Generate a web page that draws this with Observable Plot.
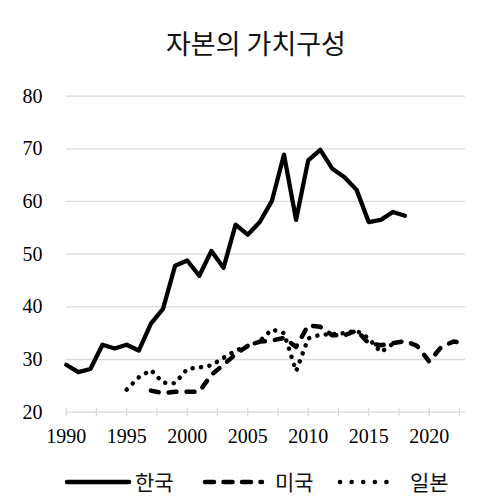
<!DOCTYPE html>
<html><head><meta charset="utf-8">
<script src="https://cdn.jsdelivr.net/npm/d3@7"></script>
<script src="https://cdn.jsdelivr.net/npm/@observablehq/plot@0.6"></script>
<style>
body{margin:0;background:#fff;}
#wrap{position:relative;width:492px;height:504px;overflow:hidden;background:#fff;}
#title{position:absolute;left:156px;width:200px;top:28px;text-align:center;font-family:"Noto Sans CJK KR";font-size:27px;line-height:30px;color:#111;white-space:nowrap;}
#chart{position:absolute;left:0;top:70px;}
#legend{position:absolute;left:0;top:462px;width:492px;height:40px;}
.lt{position:absolute;top:4px;font-family:"Noto Sans CJK KR";font-size:21px;line-height:30px;color:#111;}
</style></head>
<body><div id="wrap">
<div id="title">자본의 가치구성</div>
<div id="chart"></div>
<div id="legend">
<svg width="492" height="40" style="position:absolute;left:0;top:0">
<line x1="67" x2="129" y1="20" y2="20" stroke="#000" stroke-width="4.5" stroke-linecap="round"/>
<line x1="205" x2="262" y1="20" y2="20" stroke="#000" stroke-width="4.5" stroke-linecap="round" stroke-dasharray="9 9.5"/>
<line x1="340" x2="398" y1="20" y2="20" stroke="#000" stroke-width="4.5" stroke-linecap="round" stroke-dasharray="0.1 11.5"/>
</svg>
<span class="lt" style="left:135px">한국</span>
<span class="lt" style="left:275px">미국</span>
<span class="lt" style="left:410px">일본</span>
</div>
</div>
<script>
const koreaYears = [1990,1991,1992,1993,1994,1995,1996,1997,1998,1999,2000,2001,2002,2003,2004,2005,2006,2007,2008,2009,2010,2011,2012,2013,2014,2015,2016,2017,2018];
const koreaValues = [29.0,27.6,28.2,32.8,32.1,32.8,31.7,36.8,39.6,47.8,48.8,45.9,50.6,47.4,55.6,53.7,56.1,60.1,68.9,56.5,67.8,69.8,66.2,64.6,62.2,56.1,56.5,58.0,57.3];

const usYears = [1997,1998,1999,2000,2001,2002,2003,2004,2005,2006,2007,2008,2009,2010,2011,2012,2013,2014,2015,2016,2017,2018,2019,2020,2021,2022,2023];
const usValues = [24.1,23.6,23.9,23.9,23.9,27.1,29.0,31.0,32.6,33.4,33.6,34.1,32.4,36.5,36.2,34.6,34.6,35.5,33.1,32.7,33.1,33.5,32.6,29.6,32.4,33.4,33.1];

const japanYears = [1995,1996,1997,1998,1999,2000,2001,2002,2003,2004,2005,2006,2007,2008,2009,2010,2011,2012,2013,2014,2015,2016,2017];
const japanValues = [24.3,26.6,28.0,25.6,25.5,28.2,28.5,28.9,30.3,31.7,32.5,33.5,35.7,35.0,27.8,34.0,34.7,34.8,35.0,35.5,34.0,31.4,33.0];

const yTicks = [20,30,40,50,60,70,80];
const xLabels = [1990,1995,2000,2005,2010,2015,2020];
const xMinorTicks = [1990,1992.5,1995,1997.5,2000,2002.5,2005,2007.5,2010,2012.5,2015,2017.5,2020,2022.5];

const toRows = (ys, vs) => ys.map((y, i) => ({year: y, value: vs[i]}));
const korea = toRows(koreaYears, koreaValues);
const us = toRows(usYears, usValues);
const japan = toRows(japanYears, japanValues);

const chart = Plot.plot({
  width: 492,
  height: 380,
  marginTop: 25.6,
  marginBottom: 38.3,
  marginLeft: 65.7,
  marginRight: 27,
  x: {domain: [1990, 2023]},
  y: {domain: [20, 80]},
  style: {fontFamily: "Liberation Serif", fontSize: "20px", color: "#000", background: "white", overflow: "visible"},
  marks: [
    Plot.gridY(yTicks.slice(1), {stroke: "#d9d9d9", strokeOpacity: 1, strokeWidth: 1.3}),
    Plot.ruleY([20], {stroke: "#d9d9d9", strokeWidth: 1.3}),
    Plot.axisX(xMinorTicks, {tickSize: 8, dy: -4, stroke: "#d9d9d9", strokeWidth: 1.3, fill: "none", label: null}),
    Plot.axisX(xLabels, {tickSize: 0, tickPadding: 17, tickFormat: d => String(d), fontSize: 20, fill: "#000", label: null}),
    Plot.axisY(yTicks, {tickSize: 0, tickPadding: 23.7, fontSize: 20, fill: "#000", label: null}),
    Plot.lineY(japan, {x: "year", y: "value", stroke: "#000", strokeWidth: 4.5, strokeLinecap: "round", strokeDasharray: "0.1 8.4"}),
    Plot.lineY(us, {x: "year", y: "value", stroke: "#000", strokeWidth: 4.5, strokeLinecap: "round", strokeLinejoin: "round", strokeDasharray: "8 10"}),
    Plot.lineY(korea, {x: "year", y: "value", stroke: "#000", strokeWidth: 4.3, strokeLinejoin: "round"})
  ]
});
document.getElementById("chart").appendChild(chart);
</script>
</body></html>
